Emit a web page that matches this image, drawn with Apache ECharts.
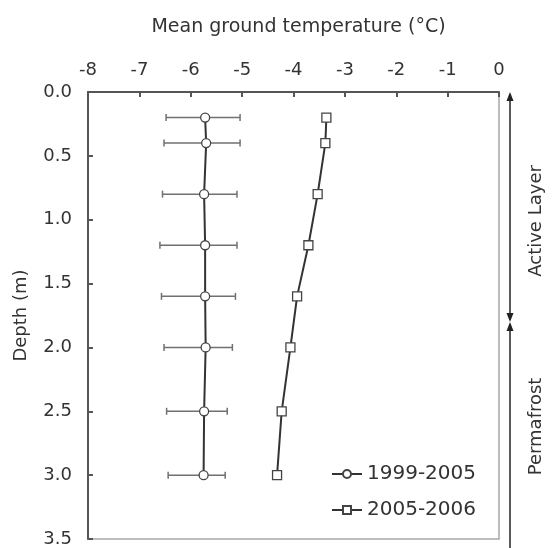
<!DOCTYPE html>
<html><head><meta charset="utf-8">
<script src="https://cdn.jsdelivr.net/npm/echarts@6/dist/echarts.min.js"></script>
<style>html,body{margin:0;padding:0;background:#fff}#c{width:552px;height:548px}</style>
</head><body><div id="c"></div>
<script>
const depths = [0.2, 0.4, 0.8, 1.2, 1.6, 2.0, 2.5, 3.0];
const temp1999 = [-5.72, -5.70, -5.74, -5.72, -5.72, -5.71, -5.74, -5.75];
const errLow1999 = [-6.48, -6.52, -6.55, -6.60, -6.57, -6.52, -6.47, -6.44];
const errHigh1999 = [-5.04, -5.04, -5.10, -5.10, -5.13, -5.19, -5.29, -5.33];
const temp2005 = [-3.36, -3.38, -3.53, -3.71, -3.93, -4.06, -4.23, -4.32];
const xTicks = [-8, -7, -6, -5, -4, -3, -2, -1, 0];
const yTicks = [0, 0.5, 1, 1.5, 2, 2.5, 3, 3.5];
const activeLayerBase = 1.8;
const seriesNames = ['1999-2005', '2005-2006'];

(function () {
const font = '"DejaVu Sans", sans-serif';
const chart = echarts.init(document.getElementById('c'), null, {renderer: 'canvas'});

const errData = depths.map((d, i) => [errLow1999[i], errHigh1999[i], d]);

chart.setOption({
  animation: false,
  backgroundColor: '#fff',
  textStyle: {fontFamily: font},
  grid: {left: 88, right: 53, top: 92, bottom: 6, show: true, borderColor: '#a8a8a8', borderWidth: 1.5, backgroundColor: 'transparent'},
  legend: {
    left: 331, top: 464, padding: 0, orient: 'vertical', itemGap: 16, itemWidth: 30, itemHeight: 10,
    data: seriesNames,
    textStyle: {fontFamily: font, fontSize: 20, color: '#333'}
  },
  xAxis: {
    type: 'value', position: 'top', min: xTicks[0], max: xTicks[xTicks.length - 1], interval: 1,
    name: 'Mean ground temperature (°C)', nameLocation: 'middle', nameGap: 55,
    nameTextStyle: {fontFamily: font, fontSize: 19, color: '#333', padding: [0, 0, 0, 10]},
    axisLine: {show: true, onZero: false, lineStyle: {color: '#555', width: 2}},
    axisTick: {show: true, inside: true, length: 5, lineStyle: {color: '#555', width: 2}},
    axisLabel: {fontFamily: font, fontSize: 18, color: '#333', margin: 13, formatter: v => String(v)},
    splitLine: {show: false}
  },
  yAxis: {
    type: 'value', inverse: true, min: yTicks[0], max: yTicks[yTicks.length - 1], interval: 0.5,
    name: 'Depth (m)', nameLocation: 'middle', nameGap: 58, nameRotate: 90,
    nameTextStyle: {fontFamily: font, fontSize: 18, color: '#333'},
    axisLine: {show: true, onZero: false, lineStyle: {color: '#555', width: 2}},
    axisTick: {show: true, inside: true, length: 5, lineStyle: {color: '#555', width: 2}},
    axisLabel: {fontFamily: font, fontSize: 18, color: '#333', margin: 16, formatter: v => v.toFixed(1)},
    splitLine: {show: false}
  },
  series: [
    {
      type: 'custom', name: 'err', silent: true, z: 1,
      data: errData,
      encode: {x: [0, 1], y: 2},
      renderItem: function (params, api) {
        const lo = api.coord([api.value(0), api.value(2)]);
        const hi = api.coord([api.value(1), api.value(2)]);
        const cap = 3.5;
        const st = {stroke: '#707070', lineWidth: 1.5};
        return {type: 'group', children: [
          {type: 'line', shape: {x1: lo[0], y1: lo[1], x2: hi[0], y2: hi[1]}, style: st},
          {type: 'line', shape: {x1: lo[0], y1: lo[1] - cap, x2: lo[0], y2: lo[1] + cap}, style: st},
          {type: 'line', shape: {x1: hi[0], y1: hi[1] - cap, x2: hi[0], y2: hi[1] + cap}, style: st}
        ]};
      }
    },
    {
      type: 'line', name: seriesNames[0], z: 3,
      data: depths.map((d, i) => [temp1999[i], d]),
      symbol: 'circle', symbolSize: 9,
      lineStyle: {color: '#333', width: 2},
      itemStyle: {color: '#fff', borderColor: '#444', borderWidth: 1.3}
    },
    {
      type: 'line', name: seriesNames[1], z: 3,
      data: depths.map((d, i) => [temp2005[i], d]),
      symbol: 'rect', symbolSize: 9,
      lineStyle: {color: '#333', width: 2},
      itemStyle: {color: '#fff', borderColor: '#444', borderWidth: 1.3}
    }
  ]
});

const pTop = chart.convertToPixel({gridIndex: 0}, [0, 0]);
const pMid = chart.convertToPixel({gridIndex: 0}, [0, activeLayerBase]);
const pBot = chart.convertToPixel({gridIndex: 0}, [0, yTicks[yTicks.length - 1]]);
const ax = pTop[0] + 11;
const ah = 9, aw = 3.5;
const ls = {stroke: '#222', lineWidth: 1.5};
const fs = {fill: '#222'};
const tx = pTop[0] + 37;
chart.setOption({
  graphic: [
    {type: 'line', shape: {x1: ax, y1: pTop[1] + 2, x2: ax, y2: pMid[1] - 2}, style: ls},
    {type: 'polygon', shape: {points: [[ax, pTop[1]], [ax - aw, pTop[1] + ah], [ax + aw, pTop[1] + ah]]}, style: fs},
    {type: 'polygon', shape: {points: [[ax, pMid[1]], [ax - aw, pMid[1] - ah], [ax + aw, pMid[1] - ah]]}, style: fs},
    {type: 'polygon', shape: {points: [[ax, pMid[1]], [ax - aw, pMid[1] + ah], [ax + aw, pMid[1] + ah]]}, style: fs},
    {type: 'line', shape: {x1: ax, y1: pMid[1] + 2, x2: ax, y2: 548}, style: ls},
    {type: 'text', x: tx, y: (pTop[1] + pMid[1]) / 2 + 14, rotation: Math.PI / 2,
      style: {text: 'Active Layer', font: '18px ' + font, fill: '#333', align: 'center', verticalAlign: 'middle'}},
    {type: 'text', x: tx, y: (pMid[1] + pBot[1]) / 2 - 4, rotation: Math.PI / 2,
      style: {text: 'Permafrost', font: '18px ' + font, fill: '#333', align: 'center', verticalAlign: 'middle'}}
  ]
});
})();
</script></body></html>
